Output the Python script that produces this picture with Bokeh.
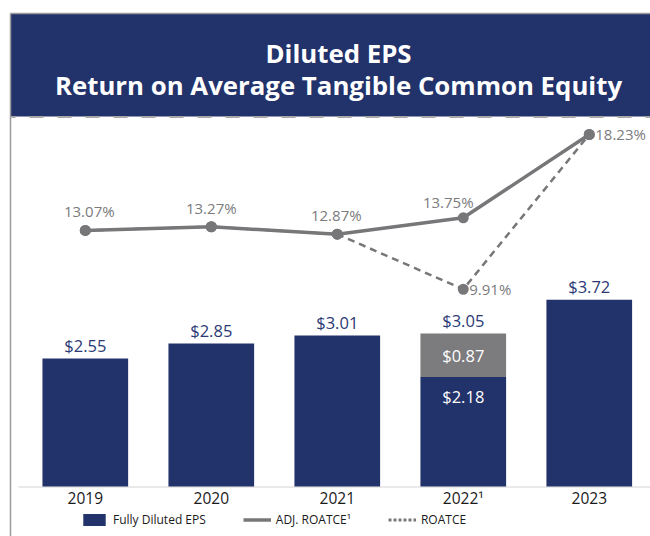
from bokeh.plotting import figure
from bokeh.models import ColumnDataSource, Range1d, Legend, LegendItem
from bokeh.core.properties import value
from bokeh.embed import file_html
from bokeh.resources import INLINE

# ---- data ----
years = ["2019", "2020", "2021", "2022\u00b9", "2023"]
eps_total = [2.55, 2.85, 3.01, 3.05, 3.72]
eps_core = [2.55, 2.85, 3.01, 2.18, 3.72]
eps_adj = [0.0, 0.0, 0.0, 0.87, 0.0]
adj_roatce = [13.07, 13.27, 12.87, 13.75, 18.23]
roatce = [13.07, 13.27, 12.87, 9.91, 18.23]
titles = ["Diluted EPS", "Return on Average Tangible Common Equity"]

NAVY = "#22326a"
GRAY = "#7c7c7e"
LINE = "#77777a"
FONT = "Open Sans"

W, H = 650, 536
idx = list(range(len(years)))

p = figure(width=W, height=H, output_backend="svg", toolbar_location=None,
           x_range=Range1d(-0.673, 4.486), y_range=Range1d(-0.996, 9.681),
           x_axis_location=None, y_axis_location=None, min_border=0,
           outline_line_color=None, background_fill_color="white",
           border_fill_color="white")
p.grid.grid_line_color = None
p.extra_x_ranges = {"px": Range1d(0, W)}
p.extra_y_ranges = {"pxy": Range1d(H, 0), "pct": Range1d(-3.383, 25.434)}

# ---- banner ----
p.quad(left=[10], right=[W], top=[13], bottom=[116], fill_color=NAVY, line_color=None,
       x_range_name="px", y_range_name="pxy")
p.segment(x0=[10, 10], y0=[13, 13], x1=[W, 10], y1=[13, H], line_color="#9a9a9a", line_width=1.5,
          x_range_name="px", y_range_name="pxy")
p.segment(x0=[11], y0=[116.5], x1=[W], y1=[116.5], line_color="#a8a8a8", line_width=2,
          line_dash="14 14", line_dash_offset=10, x_range_name="px", y_range_name="pxy")
p.text(x=[338, 338], y=[52, 84], text=titles, text_color="white",
       text_font=value(FONT), text_font_style="bold", text_font_size="25.8px",
       text_align="center", text_baseline="middle", x_range_name="px", y_range_name="pxy")

# baseline
p.segment(x0=[18], y0=[486.5], x1=[W], y1=[486.5], line_color="#d4d4d4", line_width=1,
          x_range_name="px", y_range_name="pxy")

# ---- bars ----
src = ColumnDataSource(dict(
    x=idx, core=eps_core, adj_top=[c + a for c, a in zip(eps_core, eps_adj)],
    total=eps_total, tot_lbl=["$%.2f" % v for v in eps_total],
))
bars = p.vbar(x="x", top="core", bottom=0, width=0.68, fill_color=NAVY, line_color=None, source=src)
p.vbar(x="x", top="adj_top", bottom="core", width=0.68, fill_color=GRAY, line_color=None, source=src)
p.text(x="x", y="total", text="tot_lbl", source=src, text_color="#2b3a75",
       text_font=value(FONT), text_font_size="16.5px", text_align="center",
       text_baseline="middle", y_offset=-13)

# split labels inside the 2022 bar
split_i = [i for i, a in enumerate(eps_adj) if a > 0]
split_src = ColumnDataSource(dict(
    x=split_i,
    ymid=[eps_core[i] + eps_adj[i] / 2 for i in split_i],
    ycore=[eps_core[i] for i in split_i],
    adj_lbl=["$%.2f" % eps_adj[i] for i in split_i],
    core_lbl=["$%.2f" % eps_core[i] for i in split_i],
))
p.text(x="x", y="ymid", text="adj_lbl", source=split_src, text_color="white",
       text_font=value(FONT), text_font_size="16.5px", text_align="center", text_baseline="middle")
p.text(x="x", y="ycore", text="core_lbl", source=split_src, text_color="white",
       text_font=value(FONT), text_font_size="16.5px", text_align="center", text_baseline="middle",
       y_offset=19)

# ---- lines ----
lsrc = ColumnDataSource(dict(x=idx, adj=adj_roatce, roa=roatce))
p.line(x="x", y="roa", source=lsrc, line_color=LINE, line_width=2.5, line_dash="7 5",
       y_range_name="pct")
p.scatter(x="x", y="roa", source=lsrc, size=11, fill_color=LINE, line_color=None, y_range_name="pct")
solid_r = p.line(x="x", y="adj", source=lsrc, line_color=LINE, line_width=3.5, y_range_name="pct")
p.scatter(x="x", y="adj", source=lsrc, size=11, fill_color=LINE, line_color=None, y_range_name="pct")

# percentage labels
lbl_x = [0, 1, 2, 3, 4, 3]
lbl_y = [adj_roatce[0], adj_roatce[1], adj_roatce[2], adj_roatce[3], adj_roatce[4], roatce[3]]
psrc = ColumnDataSource(dict(
    x=lbl_x, y=lbl_y, t=["%.2f%%" % v for v in lbl_y],
    dx=[4, 0, -1, -15, 6, 6], dy=[-19, -19, -19, -16, 0, 0],
    al=["center", "center", "center", "center", "left", "left"],
))
p.text(x="x", y="y", text="t", source=psrc, x_offset="dx", y_offset="dy", text_align="al",
       text_baseline="middle", text_color="#7b7b7d", text_font=value(FONT),
       text_font_size="15px", y_range_name="pct")

# ---- x tick labels ----
p.text(x=idx, y=[497] * len(idx), text=years, text_color="#1a1a1a", text_font=value(FONT),
       text_font_size="15.5px", text_align="center", text_baseline="middle", y_range_name="pxy")

# ---- legend ----
dot_r = p.line(x=[0], y=[roatce[0]], line_color=LINE, line_width=3, line_dash="3 2",
               y_range_name="pct")
legend = Legend(items=[
    LegendItem(label="Fully Diluted EPS", renderers=[bars]),
    LegendItem(label="ADJ. ROATCE\u00b9", renderers=[solid_r]),
    LegendItem(label="ROATCE", renderers=[dot_r]),
], orientation="horizontal", location=(80, 8), glyph_width=28, glyph_height=15,
    label_standoff=5, spacing=37, padding=0, margin=0, border_line_color=None,
    background_fill_alpha=0, label_text_font=FONT, label_text_font_size="12px",
    label_text_color="#1a1a1a")
p.add_layout(legend)

open("out.html", "w").write(file_html(p, INLINE))
